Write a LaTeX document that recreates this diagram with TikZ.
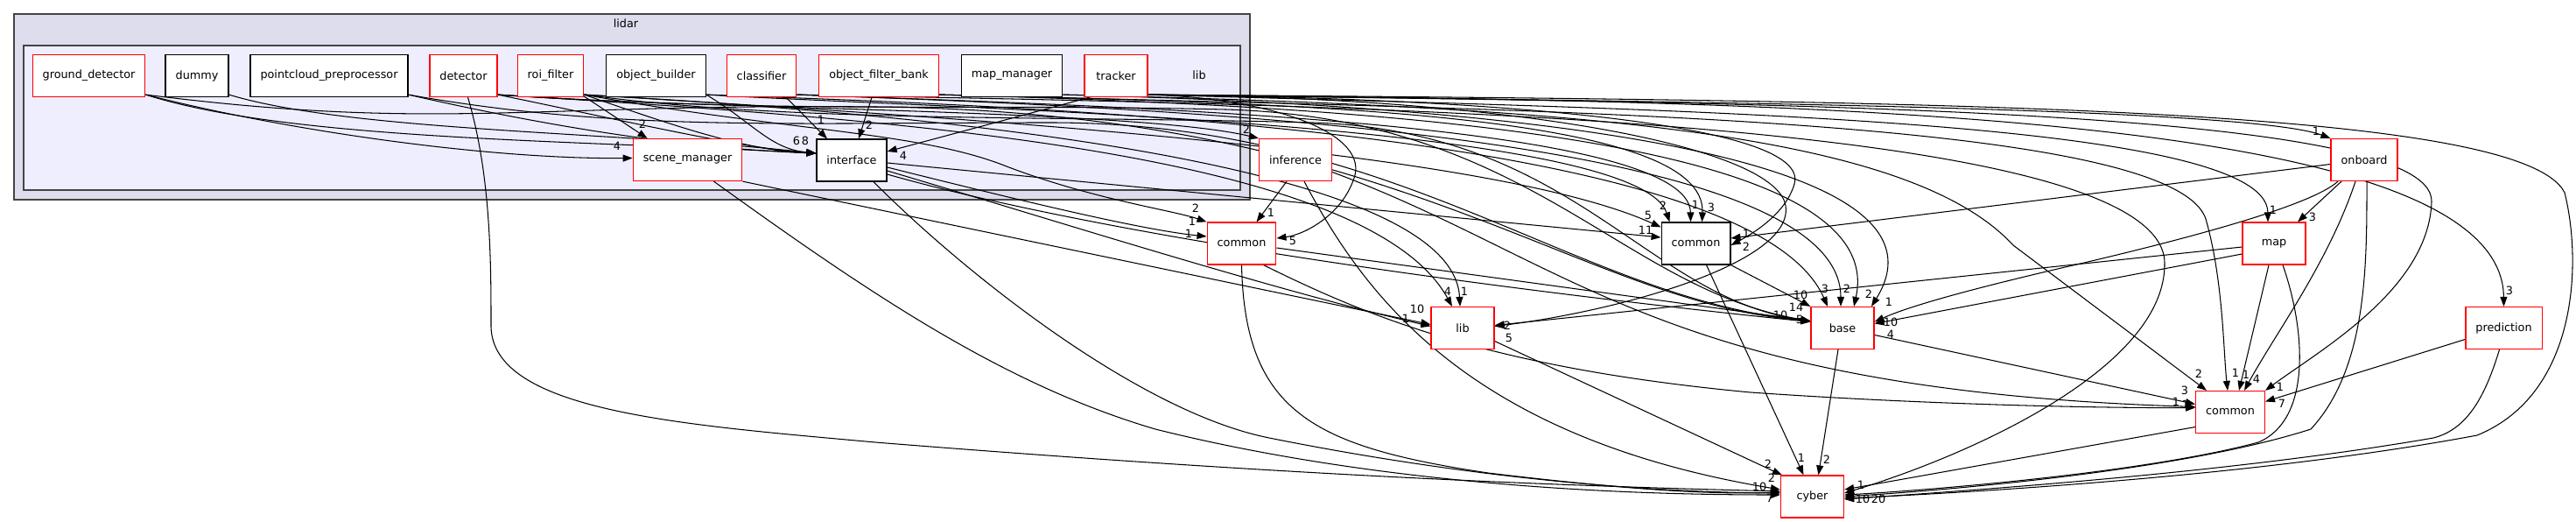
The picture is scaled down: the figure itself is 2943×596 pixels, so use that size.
\documentclass[tikz,border=0pt]{standalone}
\usepackage{fontspec}
\setmainfont{DejaVu Sans}
\usetikzlibrary{arrows.meta}
\definecolor{clusterline}{HTML}{444444}
\definecolor{outerfill}{HTML}{DDDDEE}
\definecolor{innerfill}{HTML}{EEEEFF}
\newcommand\dfont{\fontsize{12.8}{15}\selectfont}
\pgfdeclarelayer{clus}
\pgfdeclarelayer{edges}
\pgfsetlayers{clus,edges,main}
\tikzset{
 dirbox/.style={draw=black, fill=white, line width=1.2pt, minimum width=72pt, minimum height=48pt, inner xsep=11.5pt, inner ysep=0pt, font=\dfont},
 rdir/.style={dirbox, draw=red},
 edge/.style={line width=1.05pt, -{Triangle[length=11pt,width=8pt]}},
 lbl/.style={font=\dfont, inner sep=0pt},
 clusterbox/.style={draw=clusterline, line width=2pt},
}
\begin{document}
\begin{tikzpicture}[x=1pt,y=-1pt]
\useasboundingbox (0,0) rectangle (2943,596);
% clusters
\begin{pgfonlayer}{clus}
\draw[clusterbox, fill=outerfill] (16,16) rectangle (1428,228);
\draw[clusterbox, fill=innerfill] (27,52) rectangle (1417,217);
\end{pgfonlayer}
\node[lbl] (lidarlbl) at (715,27) {lidar};
\node[lbl] (liblbl) at (1370,86) {lib};
% nodes inside lib
\node[rdir]  (gd)  at (101.5,86.5) {ground\_detector};
\node[dirbox] (dm)  at (225,86.5) {dummy};
\node[dirbox] (pp)  at (376,86.5) {pointcloud\_preprocessor};
\node[rdir]  (det) at (529.5,86.5) {detector};
\node[rdir]  (roi) at (629,86.5) {roi\_filter};
\node[dirbox] (ob)  at (749.5,86.5) {object\_builder};
\node[rdir]  (cl)  at (870,86.5) {classifier};
\node[rdir]  (ofb) at (1004,86.5) {object\_filter\_bank};
\node[dirbox] (mm)  at (1156,86.5) {map\_manager};
\node[rdir]  (tr)  at (1275,86.5) {tracker};
\node[rdir]  (sm)  at (785.5,182.5) {scene\_manager};
\node[dirbox] (if)  at (973,183) {interface};
% outside nodes
\node[rdir]  (inf) at (1480,182.5) {inference};
\node[rdir]  (c1)  at (1418.5,278) {common};
\node[dirbox] (c2)  at (1937.5,278) {common};
\node[rdir]  (lb)  at (1671,374.5) {lib};
\node[rdir]  (onb) at (2701,182.5) {onboard};
\node[rdir]  (map) at (2598,278) {map};
\node[rdir]  (base) at (2105,374.5) {base};
\node[rdir]  (pred) at (2860.5,374.5) {prediction};
\node[rdir]  (c3)  at (2548,470.5) {common};
\node[rdir]  (cyb) at (2070.5,567) {cyber};

\begin{pgfonlayer}{edges}
% ---- edges from lib subdirs
\draw[edge] ([yshift=3pt]gd.south east) .. controls (330,150) and (560,182) .. ([yshift=2pt]sm.west);
\draw[edge] ([yshift=3pt]gd.south east) .. controls (330,160) and (650,160) .. ([yshift=8pt]if.west);
\draw[edge] ([yshift=3pt]gd.south east) .. controls (500,150) and (600,118) .. (1000,122) .. controls (1600,128) and (1800,345) .. ([yshift=8pt]base.west);
\draw[edge] ([yshift=3pt]dm.south east) .. controls (400,150) and (700,150) .. ([yshift=8pt]if.west);
\draw[edge] ([yshift=3pt]pp.south east) .. controls (650,150) and (800,170) .. ([yshift=8pt]if.west);
\draw[edge] ([yshift=3pt]pp.south east) .. controls (700,150) and (900,140) .. (1200,140) .. controls (1600,140) and (1800,340) .. ([yshift=8pt]base.west);
\draw[edge] ([yshift=3pt]det.south east) .. controls (700,135) and (850,170) .. ([yshift=8pt]if.west);
\draw[edge] ([yshift=3pt]det.south east) .. controls (800,125) and (1300,125) .. (inf.north west);
\draw[edge] ([yshift=3pt]det.south east) .. controls (1000,135) and (1560,170) .. ([xshift=-12pt]lb.north);
\draw[edge] ([yshift=3pt]det.south east) .. controls (900,130) and (1100,118) .. (1400,125) .. controls (1750,135) and (1850,330) .. ([yshift=8pt]base.west);
\draw[edge] ([xshift=5pt]det.south) .. controls (561,200) and (561,300) .. (561,373) .. controls (563,470) and (780,485) .. (1000,505) .. controls (1500,545) and (1800,555) .. ([yshift=6pt]cyb.west);
\draw[edge] ([xshift=-3pt,yshift=3pt]roi.south east) -- ([xshift=-46pt]sm.north);
\draw[edge] ([yshift=3pt]roi.south east) .. controls (760,140) and (850,172) .. ([yshift=8pt]if.west);
\draw[edge] ([yshift=3pt]roi.south east) .. controls (900,150) and (1050,150) .. (1150,190) .. controls (1250,228) and (1340,240) .. (c1.north west);
\draw[edge] ([yshift=3pt]roi.south east) .. controls (1100,132) and (1660,190) .. ([xshift=-3pt]lb.north);
\draw[edge] ([yshift=3pt]roi.south east) .. controls (900,140) and (1200,132) .. (1500,140) .. controls (1800,150) and (1880,340) .. ([yshift=8pt]base.west);
\draw[edge] ([yshift=3pt]roi.south east) .. controls (1100,135) and (1700,170) .. ([yshift=-6pt]c2.north west);
\draw[edge] ([yshift=3pt]ob.south east) .. controls (860,140) and (880,170) .. ([yshift=8pt]if.west);
\draw[edge] ([yshift=3pt]ob.south east) .. controls (1100,125) and (1870,140) .. ([xshift=-30pt]c2.north);
\draw[edge] ([yshift=3pt]ob.south east) .. controls (1200,122) and (2000,150) .. ([xshift=-17pt]base.north);
\draw[edge] ([xshift=28pt]cl.south) -- ([xshift=-28pt]if.north);
\draw[edge] ([yshift=3pt]cl.south east) .. controls (1300,122) and (1930,140) .. ([xshift=-6pt]c2.north);
\draw[edge] ([yshift=3pt]cl.south east) .. controls (1400,125) and (2103,160) .. ([xshift=-2pt]base.north);
\draw[edge] ([yshift=3pt]cl.south east) .. controls (1500,120) and (2470,130) .. (2473,300) .. controls (2475,420) and (2250,520) .. ([yshift=4pt]cyb.east);
\draw[edge] ([xshift=-8pt]ofb.south) -- ([xshift=8pt]if.north);
\draw[edge] ([yshift=3pt]ofb.south east) .. controls (1500,118) and (1950,130) .. ([xshift=7pt]c2.north);
\draw[edge] ([yshift=3pt]ofb.south east) .. controls (1600,122) and (2160,160) .. ([xshift=13pt]base.north);
\draw[edge] ([yshift=3pt]ofb.south east) .. controls (1700,125) and (2480,130) .. (2520,250) .. controls (2540,320) and (2540,400) .. ([xshift=-3pt]c3.north);
\draw[edge] ([yshift=3pt]mm.south east) .. controls (1700,120) and (2250,170) .. ([xshift=33pt]base.north);
\draw[edge] ([yshift=3pt]mm.south east) .. controls (1800,122) and (2180,150) .. (2300,280) -- ([xshift=-27pt]c3.north);
\draw[edge] ([xshift=-30pt]tr.south) -- ([yshift=10pt]if.east);
\draw[edge] ([yshift=3pt]tr.south east) .. controls (1450,112) and (1560,150) .. (1548,200) .. controls (1535,245) and (1490,268) .. ([yshift=6pt]c1.east);
\draw[edge] ([yshift=3pt]tr.south east) .. controls (1700,112) and (2070,140) .. (2050,210) .. controls (2040,245) and (2000,268) .. ([yshift=-2pt]c2.east);
\draw[edge] ([yshift=3pt]tr.south east) .. controls (1750,112) and (2030,170) .. (2040,235) .. controls (2050,300) and (1850,355) .. ([yshift=2pt]lb.east);
\draw[edge] ([yshift=3pt]tr.south east) .. controls (1800,115) and (2560,120) .. (onb.north west);
\draw[edge] ([yshift=3pt]tr.south east) .. controls (1900,125) and (2590,135) .. ([xshift=-7pt]map.north);
\draw[edge] ([yshift=3pt]tr.south east) .. controls (2100,115) and (2858,130) .. (pred.north);
\draw[edge] ([yshift=3pt]tr.south east) .. controls (2000,118) and (2780,120) .. (2778,230) .. controls (2775,330) and (2650,400) .. (c3.north east);
\draw[edge] ([yshift=3pt]tr.south east) .. controls (2200,115) and (2880,120) .. (2930,220) .. controls (2950,300) and (2945,450) .. (2830,497) .. controls (2600,540) and (2300,560) .. ([yshift=-2pt]cyb.east);

% ---- other edges
\draw[edge] (sm.south east) -- ([yshift=4pt]lb.west);
\draw[edge] ([xshift=30pt]sm.south) .. controls (1000,340) and (1150,440) .. (1320,490) .. controls (1600,560) and (1900,565) .. ([yshift=2pt]cyb.west);
\draw[edge] ([xshift=25pt]if.south) .. controls (1100,310) and (1300,470) .. (1450,500) .. controls (1700,550) and (1900,562) .. ([yshift=4pt]cyb.west);
\draw[edge] ([yshift=-8pt]if.east) .. controls (1150,225) and (1300,262) .. ([yshift=8pt]c1.west);
\draw[edge] ([yshift=-12pt]if.east) .. controls (1200,250) and (1450,330) .. ([yshift=2pt]lb.west);
\draw[edge] ([yshift=-3pt]if.east) -- ([yshift=7pt]c2.west);
\draw[edge] ([yshift=-16pt]if.east) .. controls (1300,280) and (1800,340) .. ([yshift=7pt]base.west);
\draw[edge] ([xshift=-10pt]inf.south) -- ([xshift=17pt]c1.north);
\draw[edge] ([xshift=10pt]inf.south) .. controls (1560,340) and (1680,500) .. ([yshift=8pt]cyb.west);
\draw[edge] ([yshift=-14pt]inf.east) .. controls (1800,300) and (1900,445) .. ([yshift=6pt]c3.west);
\draw[edge] (c1.south) .. controls (1422,470) and (1500,510) .. (1700,540) .. controls (1850,558) and (1950,565) .. ([yshift=5pt]cyb.west);
\draw[edge] ([yshift=-5pt]c1.east) -- ([yshift=8pt]base.west);
\draw[edge] ([xshift=25pt]c1.south) .. controls (1560,360) and (1700,420) .. (2000,448) .. controls (2200,462) and (2400,466) .. ([yshift=5pt]c3.west);
\draw[edge] ([yshift=-15pt]lb.east) -- ([xshift=2pt]cyb.north west);
\draw[edge] ([xshift=12pt]c2.south) -- ([xshift=-10pt]cyb.north);
\draw[edge] ([xshift=-5pt]base.south) -- ([xshift=7pt]cyb.north);
\draw[edge] (c2.south east) -- (base.north west);
\draw[edge] ([yshift=-8pt]base.east) -- ([yshift=9pt]c3.west);
\draw[edge] ([yshift=-17pt]c3.west) -- ([yshift=8pt]cyb.east);
\draw[edge] ([yshift=-4pt]map.west) -- ([yshift=3pt]lb.east);
\draw[edge] ([yshift=-12pt]map.west) -- ([yshift=5pt]base.east);
\draw[edge] ([xshift=-6pt]map.south) -- ([xshift=10pt]c3.north);
\draw[edge] ([xshift=10pt]map.south) .. controls (2635,380) and (2640,480) .. (2580,505) .. controls (2450,540) and (2200,560) .. ([yshift=2pt]cyb.east);
\draw[edge] ([yshift=-5pt]onb.west) -- ([yshift=6pt]c2.east);
\draw[edge] ([xshift=-26pt]onb.south) -- ([xshift=27pt]map.north);
\draw[edge] ([xshift=-30pt]onb.south) .. controls (2640,235) and (2500,272) .. (2381,300) .. controls (2250,330) and (2180,350) .. ([yshift=7pt]base.east);
\draw[edge] ([xshift=-10pt]onb.south) .. controls (2660,300) and (2600,380) .. ([xshift=16pt]c3.north);
\draw[edge] ([xshift=3pt]onb.south) .. controls (2704,300) and (2705,420) .. (2640,490) .. controls (2500,535) and (2250,558) .. (cyb.east);
\draw[edge] ([yshift=-13pt]pred.west) -- ([yshift=12pt]c3.east);
\draw[edge] ([xshift=-5pt]pred.south) .. controls (2840,450) and (2820,490) .. (2780,500) .. controls (2550,540) and (2250,560) .. ([yshift=-3pt]cyb.east);
\end{pgfonlayer}

% ---- labels
\node[lbl] (l1) at (705,167) {4};
\node[lbl] (l2) at (734,142) {2};
\node[lbl] (l3) at (920,161) {8};
\node[lbl] (l3b) at (910,161) {6};
\node[lbl] (l4) at (938,137) {1};
\node[lbl] (l5) at (993,143) {2};
\node[lbl] (l6) at (1032,178) {4};
\node[lbl] (l7) at (1424,148) {2};
\node[lbl] (l8) at (1366,238) {2};
\node[lbl] (l9) at (1452,243) {1};
\node[lbl] (l10) at (1362,253) {1};
\node[lbl] (l11) at (1358,267) {1};
\node[lbl] (l12) at (1477,275) {5};
\node[lbl] (l13) at (1883,246) {5};
\node[lbl] (l14) at (1900,235) {2};
\node[lbl] (l15) at (1937,234) {1};
\node[lbl] (l16) at (1955,237) {3};
\node[lbl] (l17) at (1880,263) {11};
\node[lbl] (l18) at (1995,267) {1};
\node[lbl] (l19) at (1995,282) {2};
\node[lbl] (l20) at (1619,353) {10};
\node[lbl] (l21) at (1606,364) {1};
\node[lbl] (l22) at (1654,333) {4};
\node[lbl] (l23) at (1673,333) {1};
\node[lbl] (l24) at (1722,372) {2};
\node[lbl] (l25) at (1724,386) {5};
\node[lbl] (l26) at (2057,337) {10};
\node[lbl] (l27) at (2052,351) {14};
\node[lbl] (l28) at (2056,365) {5};
\node[lbl] (l29) at (2034,360) {10};
\node[lbl] (l30) at (2085,330) {3};
\node[lbl] (l31) at (2110,330) {2};
\node[lbl] (l32) at (2135,336) {2};
\node[lbl] (l33) at (2158,345) {1};
\node[lbl] (l34) at (2160,368) {10};
\node[lbl] (l35) at (2160,382) {4};
\node[lbl] (l36) at (2646,150) {1};
\node[lbl] (l37) at (2597,240) {1};
\node[lbl] (l38) at (2642,248) {3};
\node[lbl] (l39) at (2867,332) {3};
\node[lbl] (l40) at (2512,427) {2};
\node[lbl] (l41) at (2554,426) {1};
\node[lbl] (l42) at (2566,428) {1};
\node[lbl] (l43) at (2578,433) {4};
\node[lbl] (l44) at (2605,442) {1};
\node[lbl] (l45) at (2607,461) {7};
\node[lbl] (l46) at (2496,446) {3};
\node[lbl] (l47) at (2486,459) {1};
\node[lbl] (l48) at (2497,462) {1};
\node[lbl] (l49) at (2020,530) {2};
\node[lbl] (l50) at (2058,523) {1};
\node[lbl] (l51) at (2087,525) {2};
\node[lbl] (l52) at (2024,546) {2};
\node[lbl] (l53) at (2010,556) {10};
\node[lbl] (l54) at (2022,569) {7};
\node[lbl] (l55) at (2126,554) {1};
\node[lbl] (l56) at (2128,570) {10};
\node[lbl] (l57) at (2146,570) {20};
\end{tikzpicture}
\end{document}
